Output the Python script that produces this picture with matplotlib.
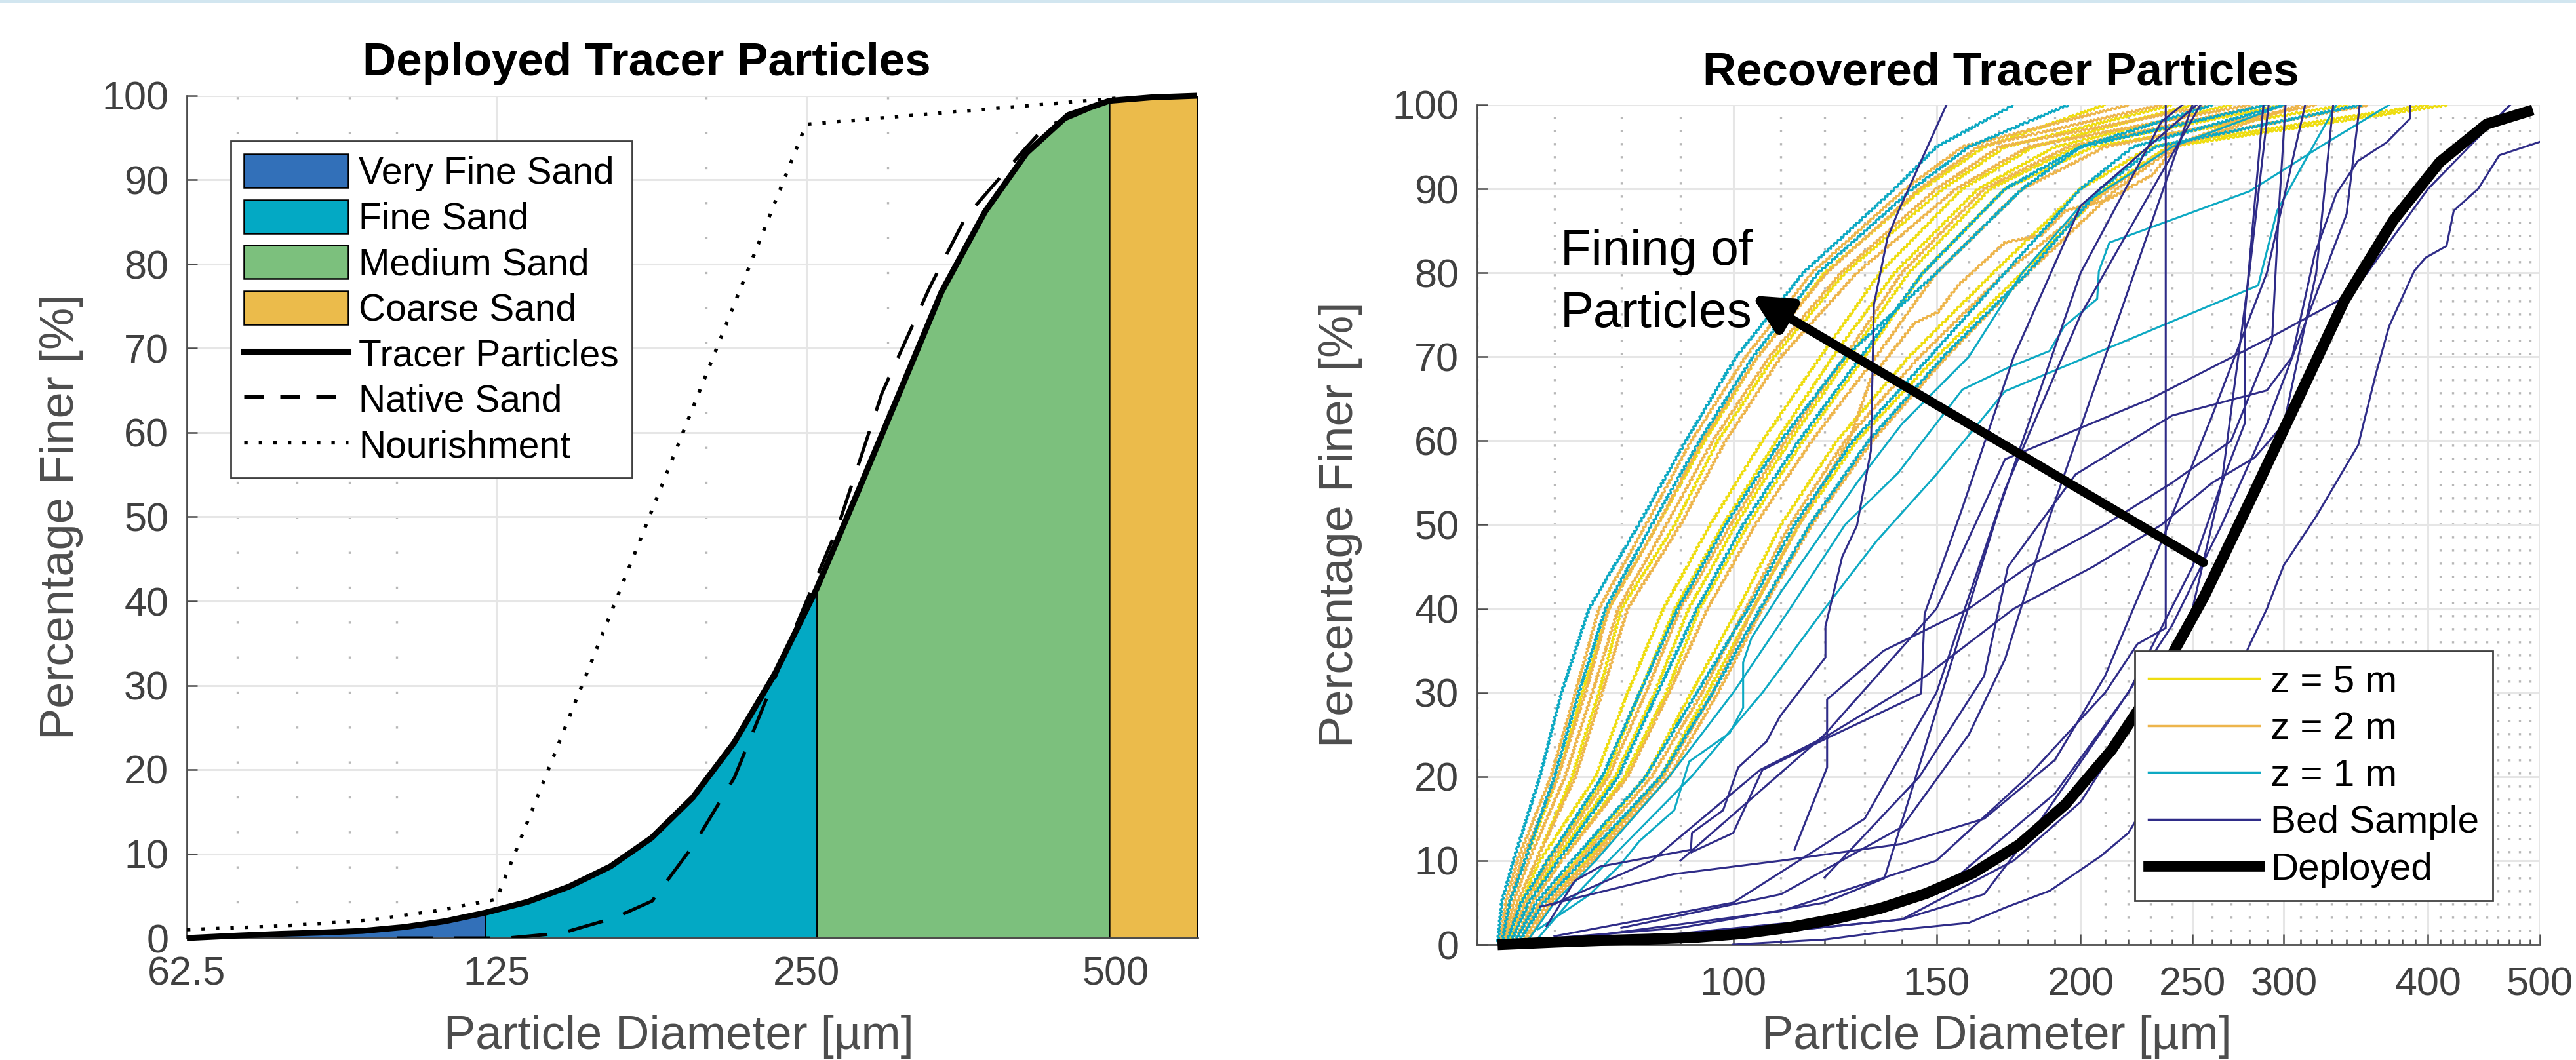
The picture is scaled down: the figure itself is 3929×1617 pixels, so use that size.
import matplotlib
matplotlib.use("Agg")
import matplotlib.pyplot as plt
from matplotlib.patches import Patch, Rectangle
from matplotlib.lines import Line2D
from matplotlib.ticker import FixedLocator, NullFormatter, NullLocator

plt.rcParams['font.family'] = ['Liberation Sans', 'DejaVu Sans']

# ---------------- left panel: deployed tracer particles ----------------
tracer_d = [62.5, 70.2, 77.0, 84.4, 92.6, 101.6, 111.4, 121.8, 134.0, 147.0,
            161.3, 176.9, 194.0, 212.8, 233.4, 256.0, 281.0, 308.0, 338.5,
            373.0, 409.5, 449.5, 493.0, 541.0, 600.0]
tracer_pct = [0.0, 0.3, 0.5, 0.65, 0.85, 1.3, 2.0, 3.0, 4.3, 6.1, 8.5, 11.9,
              16.7, 23.2, 31.5, 41.5, 53.1, 64.7, 76.7, 86.2, 93.2, 97.7,
              99.4, 99.8, 100.0]

native_d = [100.0, 128.2, 144.8, 162.8, 177.1, 194.5, 213.0, 229.3, 243.7,
            268.4, 296.3, 329.8, 357.4, 407.5, 426.8, 449.0, 493.0, 541.0]
native_pct = [0.0, 0.0, 0.6, 2.4, 4.4, 11.1, 19.1, 28.7, 36.7, 48.8, 64.7,
              77.3, 85.6, 93.6, 96.3, 97.3, 99.4, 99.8]

nourish_d = [62.5, 77.4, 93.7, 108.8, 125.0, 250.0, 500.0]
nourish_pct = [1.0, 1.45, 2.1, 3.2, 4.6, 96.6, 99.7]

class_names = ['Very Fine Sand', 'Fine Sand', 'Medium Sand', 'Coarse Sand']
class_colors = ['#3270b9', '#03a9c4', '#7cc07d', '#ebbb4b']
class_edges = [62.5, 121.8, 256.0, 493.0, 600.0]

# ---------------- right panel: recovered tracer particles ----------------
z_levels = [0, 5, 10, 20, 30, 40, 50, 60, 70, 80, 90, 95, 100]

yellow_d = [
    [63.0, 64.0, 66.0, 70.5, 74.0, 78.0, 86.0, 94.5, 105.0, 120.0, 146.0, 165.0, 210.0],
    [63.5, 65.0, 67.5, 72.5, 76.5, 80.0, 89.0, 97.0, 108.5, 125.0, 152.0, 172.0, 240.0],
    [63.2, 65.5, 68.0, 76.0, 81.0, 87.0, 95.5, 106.0, 119.0, 134.0, 158.0, 182.0, 250.0],
    [63.8, 66.0, 69.0, 77.5, 83.0, 89.0, 98.0, 109.0, 122.0, 138.0, 163.0, 190.0, 270.0],
    [64.0, 66.5, 70.0, 79.0, 85.5, 91.5, 100.5, 112.0, 126.0, 142.0, 167.0, 198.0, 300.0],
    [64.5, 67.0, 71.0, 80.5, 87.5, 93.5, 103.0, 115.0, 130.0, 146.0, 172.0, 205.0, 340.0],
    [65.0, 68.0, 73.0, 84.0, 92.0, 101.0, 110.0, 123.0, 142.0, 168.0, 200.0, 230.0, 400.0],
    [65.5, 69.0, 74.5, 86.5, 95.0, 104.0, 114.0, 128.0, 150.0, 178.0, 210.0, 238.0, 415.0],
]
orange_d = [
    [62.8, 63.5, 65.0, 69.5, 73.0, 76.5, 84.0, 92.0, 102.5, 117.0, 141.0, 158.0, 220.0],
    [63.0, 64.0, 65.5, 70.5, 74.5, 78.0, 86.0, 94.0, 105.0, 120.5, 145.0, 163.0, 235.0],
    [63.2, 64.5, 66.5, 71.5, 75.5, 79.5, 87.5, 96.0, 107.5, 124.0, 150.0, 170.0, 260.0],
    [63.5, 65.0, 67.5, 73.0, 77.0, 81.0, 90.0, 98.5, 110.0, 128.0, 156.0, 180.0, 280.0],
    [64.0, 66.0, 69.5, 78.0, 84.0, 90.0, 99.5, 111.0, 125.0, 140.0, 165.0, 195.0, 290.0],
    [64.5, 67.0, 71.0, 81.0, 88.0, 95.0, 104.5, 117.0, 133.0, 150.0, 178.0, 210.0, 320.0],
    [65.0, 68.0, 73.5, 85.0, 94.0, 102.5, 112.0, 125.0, 145.0, 172.0, 212.0, 239.0, 300.0],
    [66.0, 69.5, 75.5, 88.0, 97.0, 106.0, 117.0, 132.0, 153.0, 180.0, 215.0, 241.0, 310.0],
]
cyan_d = [
    [62.5, 63.0, 64.5, 68.0, 71.0, 75.0, 82.8, 91.0, 100.6, 115.0, 138.0, 150.0, 175.0],
    [63.0, 64.0, 66.0, 70.0, 73.5, 77.5, 85.0, 93.5, 104.0, 118.5, 143.0, 160.0, 195.0],
    [63.5, 65.5, 69.0, 77.0, 83.0, 89.5, 98.5, 110.0, 125.0, 150.0, 178.0, 200.0, 260.0],
    [64.0, 66.5, 70.5, 79.5, 86.0, 93.0, 102.0, 114.0, 129.0, 146.0, 172.0, 200.0, 290.0],
    [64.5, 67.5, 72.5, 84.0, 93.0, 103.0, 113.0, 127.0, 148.0, 172.0, 200.0, 222.0, 300.0],
    [65.0, 68.5, 74.0, 86.5, 96.0, 105.5, 116.5, 131.0, 152.0, 180.0, 208.0, 232.0, 350.0],
]
# z-lines with few, long segments (own percent levels)
orange_odd_d = [65.5, 69, 75, 87, 96, 104, 114, 126, 131.6, 143.5, 150.4, 156.6,
                172, 185, 194, 211, 231, 243, 282, 355]
orange_odd_pct = [0, 5, 10, 20, 30, 40, 50, 60, 67.4, 74, 75.3, 78.5, 83.6,
                  84.5, 87.4, 88.7, 91.7, 95.5, 97.4, 100]
cyan_odd_d = [
    [67.7, 75, 79.6, 82.9, 88.9, 91.6, 99.3, 102, 102, 103.7, 110, 118, 128, 140,
     160, 178, 200, 240, 300],
    [66, 70, 76, 88, 100, 112, 125, 139, 158, 173, 188, 193.5, 206.7, 207.4, 211.8,
     280, 325, 370],
    [67, 72, 78, 92, 106, 120, 133, 150, 172, 285, 296, 333],
]
cyan_odd_pct = [
    [1.8, 5.9, 9.3, 12.3, 16, 21.8, 25.2, 28.2, 33.6, 36.5, 42, 48, 55, 62, 70, 80,
     88, 95, 100],
    [0, 5, 10, 20, 30, 40, 50, 56.2, 66.1, 68.7, 70.7, 73.6, 76.9, 80.2, 83.6, 89.7,
     95.3, 100],
    [0, 5, 10, 20, 30, 40, 48, 56, 65.9, 78.5, 87.4, 100],
]

bed_d = [
    [100, 120, 140, 160, 172, 188, 208, 220, 240, 260, 278, 290, 300, 320, 348, 360,
     370, 389, 398, 415, 421, 442, 461, 500],
    [68.9, 72.9, 76.7, 91.9, 92.1, 98, 101, 106.9, 109.8, 120.2, 120.2, 124.3, 128,
     131.6, 132.4, 136, 138.8, 153],
    [92, 100, 106, 120.2, 145.5, 146.5, 157.6, 175, 200, 252],
    [66, 90, 120, 135.2, 169.7, 200, 235, 245],
    [75, 110, 150, 180, 210, 224, 237, 237, 237],
    [80, 110, 140, 160, 172, 187, 220, 250],
    [70, 100, 130, 150, 172, 200, 254],
    [85, 120, 150, 190, 220, 250, 265, 277.5, 277.5, 288],
    [100, 140, 175, 200, 230, 250, 265, 280, 291],
    [113, 120.6, 120.6, 135, 160, 180, 210, 240, 270, 293, 297, 301],
    [68, 88.8, 110, 140, 165, 190, 210, 235, 260, 290, 313],
    [69.6, 85, 105.5, 120.4, 146.9, 175, 205, 235, 260, 283, 300, 320, 331],
    [63, 100, 140, 165, 185, 215, 240, 265, 290, 315, 340, 349],
    [120, 145, 165, 173, 198, 240, 290, 305, 319, 333, 347.6, 368, 386, 386],
    [90, 120, 150, 172, 230, 292, 344, 400, 471],
]
bed_pct = [
    [0, 0.6, 1.8, 2.6, 4.4, 6.4, 10.5, 13.3, 22, 30, 34.7, 40, 45.2, 51, 59.5, 67.7,
     73.6, 80.2, 81.8, 83.2, 87.4, 90, 94, 95.6],
    [2.2, 7.6, 9.3, 11.3, 13.3, 16, 21.1, 24.2, 27.2, 34.2, 37.9, 46.2, 49.9, 58.8,
     76.2, 84.1, 87.1, 100],
    [11, 13.3, 20.8, 24.5, 29.9, 39.4, 51.6, 70, 88, 100],
    [0.5, 2, 5, 7.9, 51.6, 80, 98, 100],
    [1, 4, 10, 20, 30, 35.8, 37.7, 75.3, 100],
    [2, 6, 14, 25, 34, 50, 78, 100],
    [1, 5, 15, 30, 54.2, 75, 100],
    [1, 3, 6, 18, 30, 45, 55, 62.1, 74.9, 100],
    [1, 3, 10, 17, 30, 40, 55, 80, 100],
    [11.3, 21.1, 29.2, 35, 40, 45, 50, 55, 60, 72, 87.4, 100],
    [4.5, 8.4, 10, 12, 15, 22, 32, 48, 63, 80, 100],
    [4.7, 10, 20.8, 24.8, 32, 40, 45, 50, 55, 58, 62, 80, 100],
    [0, 1, 3, 6, 15, 28, 38, 50, 62, 75, 87, 100],
    [8, 20, 32, 45, 56, 63, 66, 70, 82.2, 89.4, 93.3, 95.5, 98.4, 100],
    [10, 25, 40, 57.8, 65, 72.3, 77.6, 90, 100],
]

right_major = [100, 150, 200, 250, 300, 400, 500]

YELLOW = '#eedd10'
ORANGE = '#edb54c'
CYAN = '#0da9c3'
NAVY = '#2f2c88'
GRID = '#e6e6e6'
DOTS = '#b8b8b8'
AXC = '#4d4d4d'
JAGGED = (1.6, 7, 2)   # sieve curves are drawn with a ragged, step-like stroke

W, H = 3929, 1617
fig = plt.figure(figsize=(W / 100, H / 100), dpi=100)
fig.add_artist(Rectangle((0, 1 - 5 / H), 1, 5 / H, transform=fig.transFigure,
                         color='#d2e6f0', lw=0))

axL = fig.add_axes([285 / W, 1 - 1431 / H, 1541 / W, 1285 / H])
axR = fig.add_axes([2253 / W, 1 - 1441 / H, 1621 / W, 1281 / H])


def style_axes(ax, minor, dot_gap, tick_pad):
    ax.set_xscale('log')
    ax.set_ylim(0, 100)
    ax.set_yticks(range(0, 101, 10))
    ax.xaxis.set_minor_locator(FixedLocator(minor))
    ax.xaxis.set_minor_formatter(NullFormatter())
    ax.yaxis.set_minor_locator(NullLocator())
    ax.grid(True, which='major', color=GRID, lw=2.2)
    ax.grid(True, which='minor', axis='x', color=DOTS, lw=2.4,
            linestyle=(0, (1.0, dot_gap)))
    ax.set_axisbelow(True)
    for s in ['top', 'right']:
        ax.spines[s].set_visible(False)
    for s in ['left', 'bottom']:
        ax.spines[s].set_color(AXC)
        ax.spines[s].set_linewidth(2.0)
    ax.tick_params(which='both', direction='in', color=AXC, labelcolor='#404040',
                   labelsize=44, width=1.8)
    ax.tick_params(which='major', length=11.5)
    ax.tick_params(which='minor', length=5.8)
    ax.tick_params(axis='y', pad=20)
    ax.tick_params(axis='x', pad=tick_pad)


# ---- left panel ----
style_axes(axL, [70, 80, 90, 100, 200, 300, 400, 600], 15, 20)
axL.tick_params(which='minor', length=0)
axL.set_xlim(62.5, 600)
axL.set_xticks([62.5, 125, 250, 500])
axL.set_xticklabels(['62.5', '125', '250', '500'])

for k in range(4):
    i0 = tracer_d.index(class_edges[k])
    i1 = tracer_d.index(class_edges[k + 1])
    axL.fill_between(tracer_d[i0:i1 + 1], 0, tracer_pct[i0:i1 + 1],
                     facecolor=class_colors[k], edgecolor='black', lw=1.4, zorder=1)

axL.plot(nourish_d, nourish_pct, color='black', lw=3.8, dashes=(1.0, 3.2), zorder=3)
axL.plot(native_d, native_pct, color='black', lw=3.6, dashes=(11, 6.5), zorder=3)
axL.plot(tracer_d, tracer_pct, color='black', lw=6.5, zorder=4, clip_on=False,
         solid_capstyle='butt')

axL.set_xlabel('Particle Diameter [µm]', fontsize=52, color=AXC, va='baseline')
axL.set_ylabel('Percentage Finer [%]', fontsize=52, color=AXC)
axL.xaxis.set_label_coords(0.487, -0.1315)
axL.yaxis.set_label_coords(-0.1026, 0.5)

handles = [Patch(facecolor=c, edgecolor='black', lw=1.8, label=n)
           for c, n in zip(class_colors, class_names)]
handles += [Line2D([], [], color='black', lw=6.5, label='Tracer Particles'),
            Line2D([], [], color='black', lw=3.6, dashes=(6, 5), label='Native Sand'),
            Line2D([], [], color='black', lw=3.8, dashes=(1.0, 3.2), label='Nourishment')]
legL = axL.legend(handles=handles, loc='upper left', bbox_to_anchor=(0.0435, 0.946),
                  borderaxespad=0, fontsize=41, handlelength=2.8, handleheight=1.0,
                  labelspacing=0.22, handletextpad=0.28, borderpad=0.35,
                  fancybox=False, edgecolor='#404040', framealpha=1)
legL.get_frame().set_linewidth(2.0)

fig.text(986 / W, 1 - 115 / H, 'Deployed Tracer Particles', ha='center',
         va='baseline', fontsize=51, fontweight='bold')

# ---- right panel ----
right_minor = [v for v in range(60, 501, 10) if v not in right_major]
style_axes(axR, right_minor, 5.0, 24)
axR.set_xlim(60, 500)
axR.set_xticks(right_major)
axR.set_xticklabels([str(v) for v in right_major])

zlines = []
for xs in yellow_d:
    zlines += axR.plot(xs, z_levels, color=YELLOW, lw=2.2, zorder=2)
for xs in orange_d:
    zlines += axR.plot(xs, z_levels, color=ORANGE, lw=2.2, zorder=2)
zlines += axR.plot(orange_odd_d, orange_odd_pct, color=ORANGE, lw=2.2, zorder=2)
for xs in cyan_d:
    zlines += axR.plot(xs, z_levels, color=CYAN, lw=2.2, zorder=2)
for ln in zlines:
    ln.set_sketch_params(*JAGGED)
for xs, ys in zip(cyan_odd_d, cyan_odd_pct):
    axR.plot(xs, ys, color=CYAN, lw=2.2, zorder=2)
for xs, ys in zip(bed_d, bed_pct):
    axR.plot(xs, ys, color=NAVY, lw=2.2, zorder=3)

dep_d = [d for d in tracer_d if d <= 500]
dep_pct = tracer_pct[:len(dep_d)]
axR.plot(dep_d, dep_pct, color='black', lw=12, zorder=4, clip_on=False,
         solid_capstyle='butt')

axR.annotate('', xy=(103.7, 77.3), xytext=(255.5, 45.5),
             arrowprops=dict(arrowstyle='-|>,head_length=0.6,head_width=0.3',
                             mutation_scale=58, lw=10, color='black',
                             shrinkA=0, shrinkB=0), zorder=6)
fig.text(2380 / W, 1 - 404 / H, 'Fining of', ha='left', va='baseline', fontsize=55)
fig.text(2380 / W, 1 - 499 / H, 'Particles', ha='left', va='baseline', fontsize=55)

axR.set_xlabel('Particle Diameter [µm]', fontsize=52, color=AXC, va='baseline')
axR.set_ylabel('Percentage Finer [%]', fontsize=52, color=AXC)
axR.xaxis.set_label_coords(0.489, -0.124)
axR.yaxis.set_label_coords(-0.108, 0.5)

handlesR = [Line2D([], [], color=YELLOW, lw=2.5, label='z = 5 m'),
            Line2D([], [], color=ORANGE, lw=2.5, label='z = 2 m'),
            Line2D([], [], color=CYAN, lw=2.5, label='z = 1 m'),
            Line2D([], [], color=NAVY, lw=2.5, label='Bed Sample'),
            Line2D([], [], color='black', lw=12, label='Deployed')]
legR = axR.legend(handles=handlesR, loc='lower right', bbox_to_anchor=(0.9556, 0.0523),
                  borderaxespad=0, fontsize=42, handlelength=2.9, labelspacing=0.3,
                  handletextpad=0.3, borderpad=0.35, fancybox=False,
                  edgecolor='#404040', framealpha=1)
legR.get_frame().set_linewidth(2.0)
legR.set_zorder(7)

fig.text(3052 / W, 1 - 129 / H, 'Recovered Tracer Particles', ha='center',
         va='baseline', fontsize=51, fontweight='bold')

fig.savefig('out.png', dpi=100)
